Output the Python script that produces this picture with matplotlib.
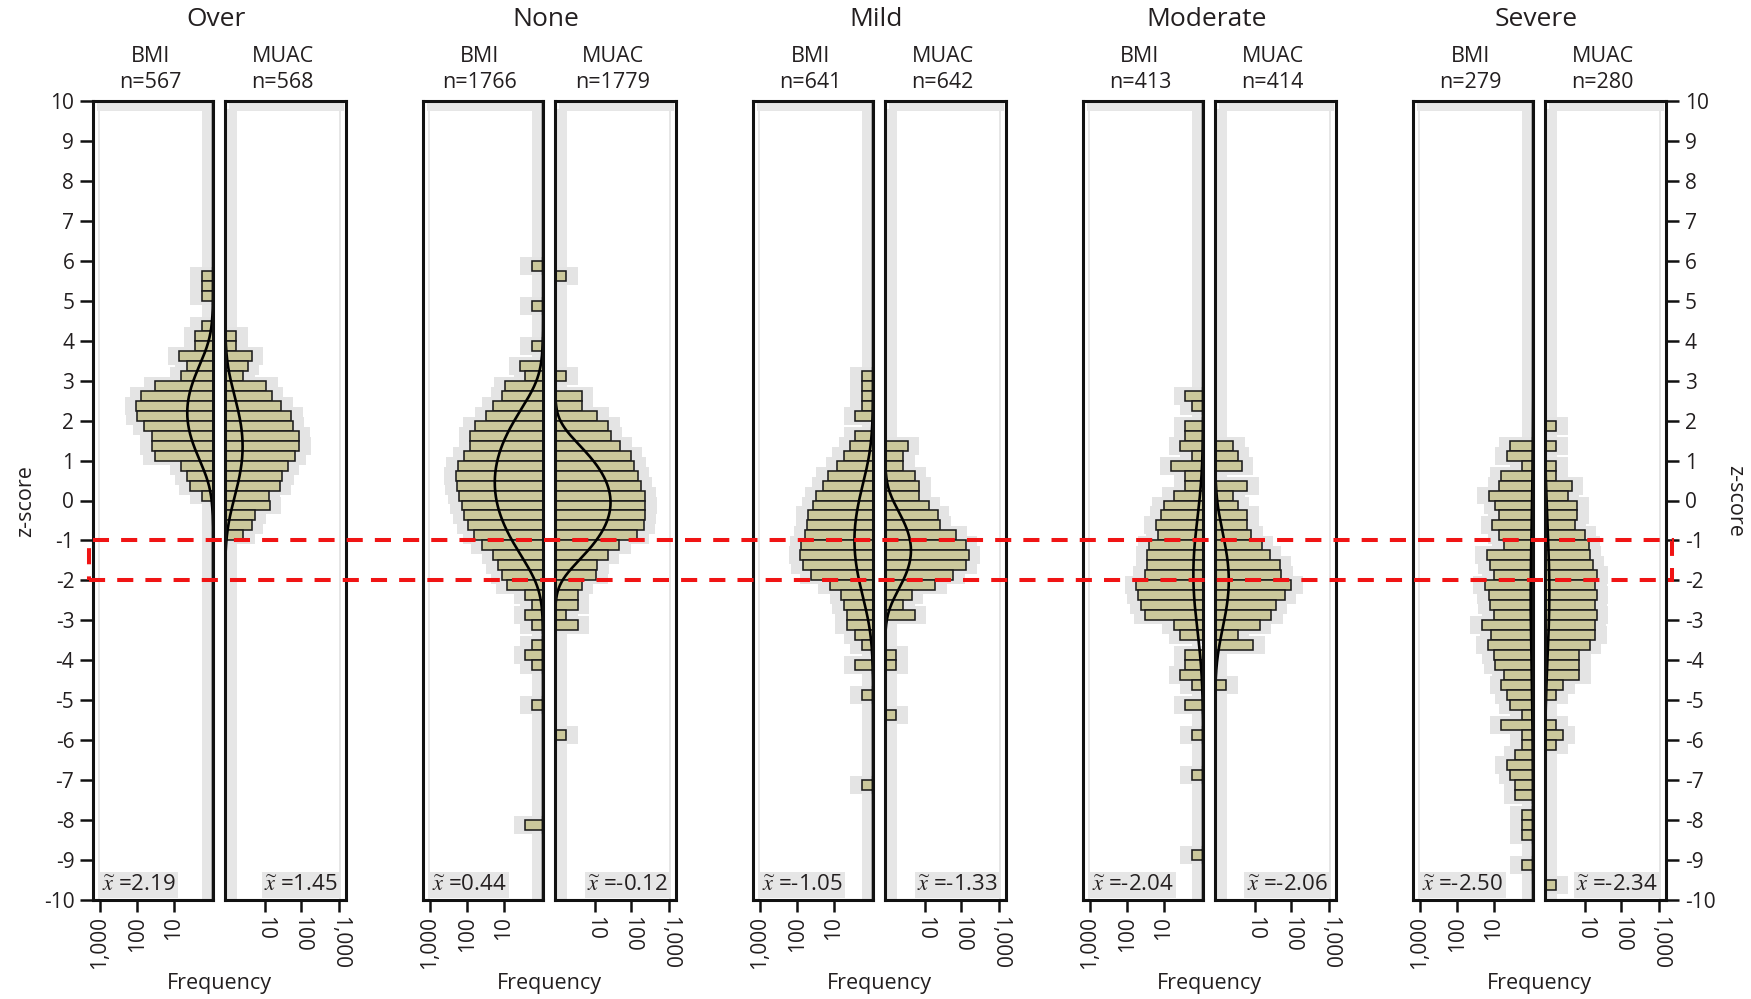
import numpy as np
import matplotlib
matplotlib.use("Agg")
import matplotlib.pyplot as plt
from matplotlib.patches import Rectangle
from matplotlib.transforms import blended_transform_factory

plt.rcParams["font.family"] = ["Open Sans", "DejaVu Sans"]
plt.rcParams["mathtext.fontset"] = "stix"
plt.rcParams["axes.unicode_minus"] = False

# ------------------------------------------------------------------ data
groups = ["Over", "None", "Mild", "Moderate", "Severe"]
n_bmi = [567, 1766, 641, 413, 279]
n_muac = [568, 1779, 642, 414, 280]
median_bmi = ["2.19", "0.44", "-1.05", "-2.04", "-2.50"]
median_muac = ["1.45", "-0.12", "-1.33", "-2.06", "-2.34"]

BIN = 0.25  # width of a z-score bin

# Frequencies per 0.25-wide z-score bin, listed from the top bin downwards.
# *_top is the upper edge of the first bin in the list.
over_bmi_top = 5.75
over_bmi = [1, 1, 1, 0, 0, 1, 2, 2, 7, 4, 6, 33, 79, 106, 100, 65, 41, 41, 34,
            6, 4, 3, 1]
over_muac_top = 4.25
over_muac = [1, 1, 4, 3, 2, 11, 16, 29, 54, 59, 85, 89, 66, 44, 31, 26, 13, 14,
             5, 4, 2]

none_bmi_top = 6.0
none_bmi = [1, 0, 0, 0, 1, 0, 0, 0, 1, 0, 3, 2,
            9, 11, 20, 31, 63, 85, 85, 122, 180, 203, 191, 166, 141, 120, 94,
            66, 39, 20, 15, 11, 8, 2, 1, 2, 1,
            0, 1, 2, 1, 0, 0, 0, 1, 0, 0, 0, 0, 0, 0, 0, 0, 0, 0, 0, 2]
none_muac_top = 5.75
none_muac = [1, 0, 0, 0, 0, 0, 0, 0, 0, 0, 1, 0,
             4, 4, 12, 24, 28, 50, 96, 120, 150, 180, 225, 235, 225, 215, 144,
             47, 23, 12, 11, 4, 3, 3, 1, 3,
             0, 0, 0, 0, 0, 0, 0, 0, 0, 0, 1]

mild_bmi_top = 3.25
mild_bmi = [1, 1, 1, 1, 2, 0, 2, 3, 5, 8, 15, 20, 31, 38, 52, 55, 61, 79, 84,
            71, 43, 13, 6, 5, 4, 4, 2, 1, 0, 2, 0, 0, 1,
            0, 0, 0, 0, 0, 0, 0, 0, 1]
mild_muac_top = 1.5
mild_muac = [3, 2, 2, 5, 7, 7, 13, 23, 26, 71, 130, 159, 130, 61, 20, 4, 2, 5,
             0, 0, 0, 1, 1, 0, 0, 0, 0, 1]

moderate_bmi_top = 2.75
moderate_bmi = [2, 1, 0, 2, 2, 3, 1, 6, 2, 2, 5, 10, 12, 17, 15, 26, 29, 29, 34,
                57, 51, 42, 33, 5, 3, 0, 2, 2, 3, 1, 0, 2, 0, 0, 1, 0, 0, 0, 1,
                0, 0, 0, 0, 0, 0, 0, 1]
moderate_muac_top = 1.5
moderate_muac = [2, 3, 4, 0, 6, 2, 3, 6, 6, 8, 16, 26, 49, 54, 100, 67, 38, 29,
                 14, 3, 9, 0, 0, 0, 1]

severe_bmi_top = 1.5
severe_bmi = [3, 4, 1, 6, 7, 14, 9, 7, 11, 7, 5, 16, 13, 10, 18, 14, 13, 10, 22,
              12, 15, 10, 9, 5, 6, 4, 3, 1, 6, 1, 1, 2, 4, 3, 2, 2, 0, 1, 1, 1,
              0, 0, 1]
severe_muac_top = 2.0
severe_muac = [1, 0, 1, 0, 1, 1, 4, 3, 6, 6, 5, 10, 13, 14, 17, 22, 20, 22, 20,
               22, 19, 20, 14, 7, 7, 7, 2, 1, 0, 0, 1, 2, 1,
               0, 0, 0, 0, 0, 0, 0, 0, 0, 0, 0, 0, 0, 1]

hist_bmi = [(over_bmi, over_bmi_top), (none_bmi, none_bmi_top),
            (mild_bmi, mild_bmi_top), (moderate_bmi, moderate_bmi_top),
            (severe_bmi, severe_bmi_top)]
hist_muac = [(over_muac, over_muac_top), (none_muac, none_muac_top),
             (mild_muac, mild_muac_top), (moderate_muac, moderate_muac_top),
             (severe_muac, severe_muac_top)]

# smoothed density overlay: centre, spread and peak height (frequency units)
curve_mu_bmi = [2.2, 0.45, -1.0, -1.85, -2.5]
curve_sd_bmi = [0.8, 0.95, 1.05, 1.2, 1.8]
curve_peak_bmi = [3.8, 17.9, 2.1, 0.8, 0.15]
curve_mu_muac = [1.35, -0.05, -1.25, -2.0, -2.3]
curve_sd_muac = [0.95, 0.7, 0.66, 0.95, 1.5]
curve_peak_muac = [1.9, 27.7, 3.8, 1.3, 0.3]

freq_ticks = [10, 100, 1000]
freq_labels = ["10", "100", "1,000"]
z_ticks = list(range(-10, 11))

# ------------------------------------------------------------------ style
W, H = 1751, 999
FILL = "#cbc89b"
EDGE = "#1c1c1c"
HALO = "#e4e4e4"
FRAME = "#e6e6e6"
RED = "#f01414"
TEXT = "#231f20"
XMAX = 1500


def fwd(x):
    return np.sign(x) * np.log10(1 + np.abs(x))


def inv(y):
    return np.sign(y) * (10 ** np.abs(y) - 1)


def fx(px):
    return px / W


def fy(py):
    return 1 - py / H


fig = plt.figure(figsize=(W / 100, H / 100), dpi=100)

PANEL_TOP, PANEL_BOT = 101, 900
pair_left = [93, 423, 753, 1083, 1413]
PW_BMI, GAP, PW_MUAC = 120, 12, 121

zz = np.linspace(-10, 10, 1001)


def draw_hist(ax, counts, top):
    counts = np.asarray(counts, float)
    lower = top - BIN * (np.arange(len(counts)) + 1)
    keep = counts > 0
    y = lower[keep] + BIN / 2
    c = counts[keep]
    halo = (1 + c) * 2.0 - 1
    ax.barh(y, halo, height=BIN + 0.2, left=0, color=HALO, lw=0, zorder=1)
    ax.barh(y, c, height=BIN, left=0, color=FILL, edgecolor=EDGE, lw=1.15,
            zorder=3)


def decorate(ax, inner_right):
    # light inner frame of the panel
    if inner_right:
        strips = [(0.908, 0.0, 0.075, 0.99), (0.04, 0.0, 0.016, 0.99)]
    else:
        strips = [(0.017, 0.0, 0.08, 0.99), (0.94, 0.0, 0.016, 0.99)]
    strips.append((0.03, 0.988, 0.955, 0.009))
    for x0, y0, w, h in strips:
        ax.add_patch(Rectangle((x0, y0), w, h, transform=ax.transAxes,
                               color=FRAME, lw=0, zorder=0.5))


axes = []
for i, g in enumerate(groups):
    left_b = pair_left[i]
    left_m = left_b + PW_BMI + GAP
    ph = (PANEL_BOT - PANEL_TOP) / H
    ax_b = fig.add_axes([fx(left_b), fy(PANEL_BOT), PW_BMI / W, ph])
    ax_m = fig.add_axes([fx(left_m), fy(PANEL_BOT), PW_MUAC / W, ph])

    for ax, (counts, top), mu, sd, pk, med, is_bmi in [
        (ax_b, hist_bmi[i], curve_mu_bmi[i], curve_sd_bmi[i],
         curve_peak_bmi[i], median_bmi[i], True),
        (ax_m, hist_muac[i], curve_mu_muac[i], curve_sd_muac[i],
         curve_peak_muac[i], median_muac[i], False),
    ]:
        ax.set_xscale("function", functions=(fwd, inv))
        ax.set_ylim(-10, 10)
        if is_bmi:
            ax.set_xlim(XMAX, 0)
        else:
            ax.set_xlim(0, XMAX)
        decorate(ax, inner_right=is_bmi)
        draw_hist(ax, counts, top)
        ax.plot(pk * np.exp(-(zz - mu) ** 2 / (2 * sd ** 2)), zz,
                color="black", lw=1.9, zorder=4)

        for s in ax.spines.values():
            s.set_linewidth(2.2)
            s.set_color("#111111")
            s.set_zorder(6)

        ax.set_xticks(freq_ticks)
        ax.set_xticklabels(freq_labels, rotation=90 if is_bmi else -90)
        ax.xaxis.set_minor_locator(matplotlib.ticker.NullLocator())
        ax.tick_params(axis="x", direction="out", length=8.5, width=1.8,
                       labelsize=15, pad=3, colors="#111111",
                       labelcolor=TEXT)
        ax.set_yticks([])

        if is_bmi:
            ax.text(0.075, 0.012, r"$\widetilde{x}$ =" + med,
                    transform=ax.transAxes, ha="left", va="baseline",
                    fontsize=16, color=TEXT, zorder=7,
                    bbox=dict(fc=FRAME, ec="none", pad=2.0))
        else:
            ax.text(0.935, 0.012, r"$\widetilde{x}$ =" + med,
                    transform=ax.transAxes, ha="right", va="baseline",
                    fontsize=16, color=TEXT, zorder=7,
                    bbox=dict(fc=FRAME, ec="none", pad=2.0))

    axes.append((ax_b, ax_m))

    cx_b = left_b + PW_BMI / 2 - 3
    cx_m = left_m + PW_MUAC / 2 - 3
    fig.text(fx((cx_b + cx_m) / 2), fy(19), g, ha="center", va="center",
             fontsize=19, color=TEXT)
    fig.text(fx(cx_b), fy(56), "BMI", ha="center", va="center",
             fontsize=15.5, color=TEXT)
    fig.text(fx(cx_m), fy(56), "MUAC", ha="center", va="center",
             fontsize=15.5, color=TEXT)
    fig.text(fx(cx_b), fy(83), f"n={n_bmi[i]}", ha="center", va="center",
             fontsize=15.5, color=TEXT)
    fig.text(fx(cx_m), fy(83), f"n={n_muac[i]}", ha="center", va="center",
             fontsize=15.5, color=TEXT)
    fig.text(fx((left_b + left_m + PW_MUAC) / 2), fy(983), "Frequency",
             ha="center", va="center", fontsize=15.5, color=TEXT)

# z-score axes on the outer panels
first = axes[0][0]
first.set_yticks(z_ticks)
first.set_yticklabels([str(t) for t in z_ticks])
first.tick_params(axis="y", left=True, right=False, labelleft=True,
                  direction="out", length=9.5, width=1.8, labelsize=15,
                  pad=4, colors="#111111", labelcolor=TEXT)
last = axes[-1][1]
last.set_yticks(z_ticks)
last.set_yticklabels([str(t) for t in z_ticks])
last.tick_params(axis="y", left=False, right=True, labelleft=False,
                 labelright=True, direction="out", length=9.5, width=1.8,
                 labelsize=15, pad=4, colors="#111111", labelcolor=TEXT)

fig.text(fx(26), fy(501), "z-score", rotation=90, ha="center", va="center",
         fontsize=15.5, color=TEXT)
fig.text(fx(1735), fy(501), "z-score", rotation=270, ha="center",
         va="center", fontsize=15.5, color=TEXT)

# highlighted band between z = -2 and z = -1 across all panels
band = blended_transform_factory(fig.transFigure, first.transData)
fig.add_artist(Rectangle((fx(89), -2), fx(1672) - fx(89), 1, transform=band,
                         fill=False, ec=RED, lw=2.9, ls=(0, (4, 3)),
                         zorder=20, clip_on=False))

fig.savefig("out.png", dpi=100)
